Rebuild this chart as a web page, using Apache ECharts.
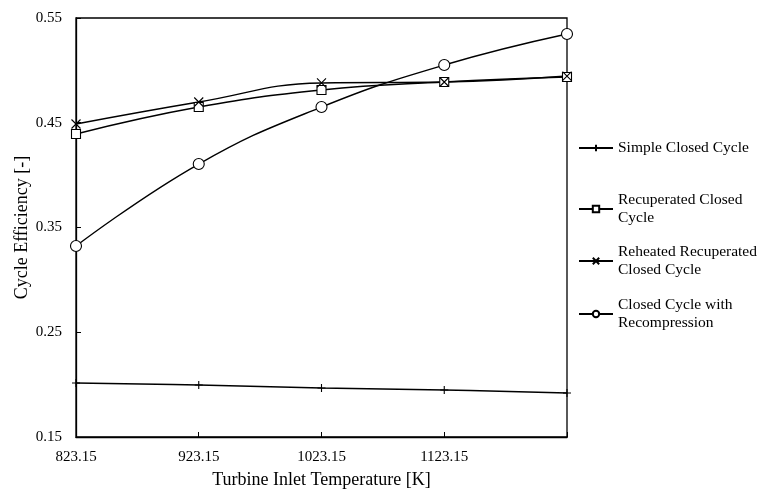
<!DOCTYPE html>
<html>
<head>
<meta charset="utf-8">
<script src="https://cdn.jsdelivr.net/npm/echarts@6/dist/echarts.min.js"></script>
<style>
  html, body { margin: 0; padding: 0; background: #fff; }
  #chart { width: 758px; height: 491px; }
</style>
</head>
<body>
<div id="chart"></div>
<script>
// Turbine inlet temperatures [K]
const temperatures = [823.15, 923.15, 1023.15, 1123.15, 1223.15];

// Cycle efficiencies [-]
const simpleClosed = [0.2015, 0.1996, 0.1968, 0.1949, 0.1920];
const recuperatedClosed = [0.4393, 0.4650, 0.4813, 0.4889, 0.4937];
const reheatedRecuperated = [0.4488, 0.4698, 0.4880, 0.4889, 0.4946];
const recompression = [0.3323, 0.4106, 0.4650, 0.5051, 0.5347];

const seriesNames = [
  'Simple Closed Cycle',
  'Recuperated Closed\nCycle',
  'Reheated Recuperated\nClosed Cycle',
  'Closed Cycle with\nRecompression'
];

const xTickLabels = ['823.15', '923.15', '1023.15', '1123.15'];

const FONT = '"Liberation Serif", "Times New Roman", serif';

const pairs = (ys) => temperatures.map((t, i) => [t, ys[i]]);

const plusPath = 'path://M5,0L5,10M0,5L10,5';
const crossPath = 'path://M0,0L10,10M10,0L0,10';

function makeSeries(name, ys, symbol, size) {
  return {
    name: name,
    type: 'line',
    data: pairs(ys),
    smooth: 0.45,
    symbol: symbol,
    symbolSize: size,
    showAllSymbol: true,
    lineStyle: { color: '#000', width: 1.4 },
    itemStyle: { color: '#fff', borderColor: '#000', borderWidth: 1.1 },
    emphasis: { disabled: true },
    z: 3
  };
}

function legendAt(name, top) {
  return {
    data: [name],
    orient: 'vertical',
    left: 573,
    top: top,
    itemWidth: 34,
    itemHeight: 8,
    itemGap: 0,
    selectedMode: false,
    textStyle: { fontFamily: FONT, fontSize: 15.5, color: '#000', lineHeight: 18 }
  };
}

const chart = echarts.init(document.getElementById('chart'), null, { renderer: 'canvas' });

chart.setOption({
  animation: false,
  backgroundColor: '#fff',
  grid: {
    left: 76, right: 191, top: 18, bottom: 54,
    outerBoundsMode: 'none',
    show: true, borderColor: '#000', borderWidth: 1.3, backgroundColor: 'transparent'
  },
  legend: [
    legendAt(seriesNames[0], 134),
    legendAt(seriesNames[1], 186),
    legendAt(seriesNames[2], 238),
    legendAt(seriesNames[3], 291)
  ],
  xAxis: {
    type: 'value',
    min: 823.15,
    max: 1223.15,
    interval: 100,
    name: 'Turbine Inlet Temperature [K]',
    nameLocation: 'middle',
    nameGap: 34,
    nameMoveOverlap: false,
    nameTextStyle: { fontFamily: FONT, fontSize: 18, color: '#000' },
    axisLine: { lineStyle: { color: '#000', width: 1.3 } },
    axisTick: { inside: true, length: 5, lineStyle: { color: '#000' } },
    splitLine: { show: false },
    axisLabel: {
      fontFamily: FONT, fontSize: 15, color: '#000', margin: 13,
      formatter: function (v) {
        const s = v.toFixed(2);
        return xTickLabels.indexOf(s) >= 0 ? s : '';
      }
    }
  },
  yAxis: {
    type: 'value',
    min: 0.15,
    max: 0.55,
    interval: 0.1,
    name: 'Cycle Efficiency [-]',
    nameLocation: 'middle',
    nameGap: 45,
    nameMoveOverlap: false,
    nameTextStyle: { fontFamily: FONT, fontSize: 18, color: '#000' },
    axisLine: { lineStyle: { color: '#000', width: 1.3 } },
    axisTick: { inside: true, length: 5, lineStyle: { color: '#000' } },
    splitLine: { show: false },
    axisLabel: {
      fontFamily: FONT, fontSize: 15, color: '#000', margin: 14,
      formatter: function (v) { return v.toFixed(2); }
    }
  },
  series: [
    makeSeries(seriesNames[0], simpleClosed, plusPath, 8),
    makeSeries(seriesNames[1], recuperatedClosed, 'rect', 9),
    makeSeries(seriesNames[2], reheatedRecuperated, crossPath, 9),
    makeSeries(seriesNames[3], recompression, 'circle', 11)
  ]
});
</script>
</body>
</html>
